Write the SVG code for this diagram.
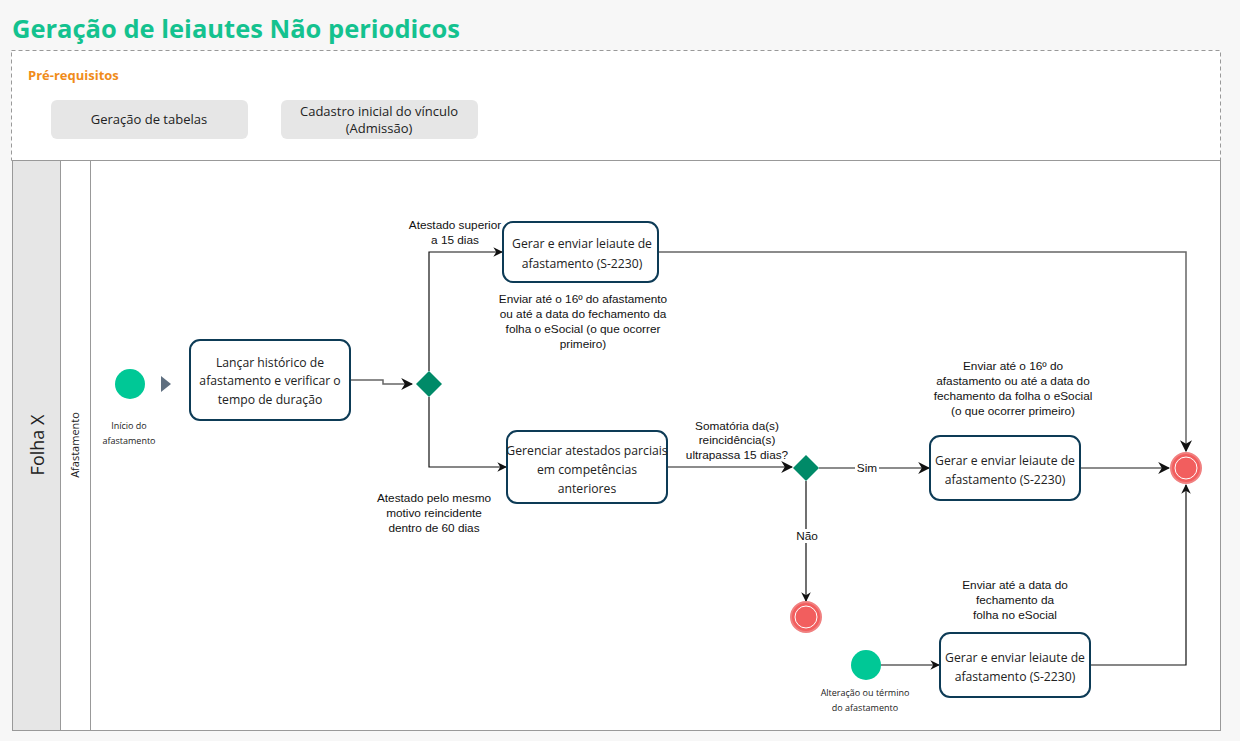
<svg xmlns="http://www.w3.org/2000/svg" width="1240" height="741" viewBox="0 0 1240 741">
<defs>
<style>
.t{font-family:"Open Sans","Noto Sans",sans-serif;font-size:12.2px;fill:#222;text-anchor:middle}
.a{font-family:"Liberation Sans",Arial,sans-serif;font-size:11.8px;fill:#111;text-anchor:middle}
.s{font-family:"Open Sans","Noto Sans",sans-serif;font-size:9px;fill:#222;text-anchor:middle}
.task{fill:#fff;stroke:#0d3b56;stroke-width:2}
.gray{fill:#e6e6e6}
.c{fill:none;stroke:#111;stroke-width:1.2}
.cg{fill:none;stroke:#666;stroke-width:1.5}
</style>
<marker id="ar" viewBox="0 0 10 10" refX="9" refY="5" markerWidth="8" markerHeight="8" orient="auto"><path d="M0,0 L10,5 L0,10 L3,5 Z" fill="#111"/></marker>
</defs>
<rect width="1240" height="741" fill="#f7f7f7"/>
<text x="12" y="38" font-family="Open Sans,Noto Sans,sans-serif" font-size="25.5" font-weight="bold" fill="#14c28f">Geração de leiautes Não periodicos</text>
<rect x="11.5" y="50.5" width="1209" height="110" fill="#fff" stroke="#999" stroke-dasharray="4 3"/>
<text x="28" y="80" font-family="Open Sans,Noto Sans,sans-serif" font-size="13" font-weight="bold" fill="#f08c1a">Pré-requisitos</text>
<g id="pre1"><rect class="gray" x="51" y="100" width="197" height="39" rx="6"/><text class="t" x="149" y="124" style="font-size:13px">Geração de tabelas</text></g>
<g id="pre2"><rect class="gray" x="281" y="100" width="197" height="39" rx="6"/><text class="t" x="379" y="116" style="font-size:13px">Cadastro inicial do vínculo</text><text class="t" x="379" y="133" style="font-size:13px">(Admissão)</text></g>
<g id="pool">
<rect x="12.5" y="160.5" width="1208" height="570" fill="#fff" stroke="#999"/>
<rect x="12.5" y="160.5" width="48" height="570" fill="#e6e6e6" stroke="#999"/>
<rect x="60.5" y="160.5" width="30" height="570" fill="#fff" stroke="#999"/>
<text transform="translate(44,445) rotate(-90)" font-family="Open Sans,Noto Sans,sans-serif" font-size="18" fill="#222" text-anchor="middle">Folha X</text>
<text transform="translate(79,445) rotate(-90)" class="s" style="font-size:11px">Afastamento</text>
</g>
<g id="connectors">
<path class="cg" d="M350,380 H383 V384 H412" marker-end="url(#ar)"/>
<path class="c" d="M429,371 V252 H502" marker-end="url(#ar)"/>
<path class="c" d="M429,397 V467 H506" marker-end="url(#ar)"/>
<path class="cg" d="M658,252 H1186 V451" marker-end="url(#ar)"/>
<path class="cg" d="M667,467 H792" marker-end="url(#ar)"/>
<path class="cg" d="M819,468 H929" marker-end="url(#ar)"/>
<path class="cg" d="M1080,468 H1169" marker-end="url(#ar)"/>
<path class="c" d="M806,481 V601" marker-end="url(#ar)"/>
<path class="c" d="M881,665 H939" marker-end="url(#ar)"/>
<path class="c" d="M1090,665 H1186 V485" marker-end="url(#ar)"/>
<rect x="855" y="461" width="24" height="14" fill="#fff"/><text class="a" x="867" y="472">Sim</text>
<rect x="794" y="529" width="26" height="14" fill="#fff"/><text class="a" x="807" y="540">Não</text>
<text class="a" x="455" y="229">Atestado superior</text><text class="a" x="455" y="244">a 15 dias</text>
<text class="a" x="434" y="502">Atestado pelo mesmo</text><text class="a" x="434" y="517">motivo reincidente</text><text class="a" x="434" y="532">dentro de 60 dias</text>
<text class="a" x="737" y="430">Somatória da(s)</text><text class="a" x="737" y="444">reincidência(s)</text><text class="a" x="737" y="459">ultrapassa 15 dias?</text>
</g>
<g id="start1"><circle cx="130" cy="384" r="15" fill="#00c896"/><path d="M161,376 L171,384 L161,392 Z" fill="#5f6f80"/><text class="s" x="129" y="429">Início do</text><text class="s" x="129" y="444">afastamento</text></g>
<g id="task1"><rect class="task" x="190" y="340" width="160" height="80" rx="10"/><text class="t" x="270" y="367">Lançar histórico de</text><text class="t" x="270" y="385">afastamento e verificar o</text><text class="t" x="270" y="404">tempo de duração</text></g>
<g id="gw1"><path d="M429,371 L442,384 L429,397 L416,384 Z" fill="#008a68"/></g>
<g id="task2"><rect class="task" x="503" y="222" width="155" height="60" rx="10"/><text class="t" x="582" y="248">Gerar e enviar leiaute de</text><text class="t" x="582" y="268">afastamento (S-2230)</text>
<text class="a" x="583" y="303">Enviar até o 16º do afastamento</text><text class="a" x="583" y="318">ou até a data do fechamento da</text><text class="a" x="583" y="333">folha o eSocial (o que ocorrer</text><text class="a" x="583" y="348">primeiro)</text></g>
<g id="task3"><rect class="task" x="507" y="431" width="160" height="72" rx="10"/><text class="t" x="587" y="455">Gerenciar atestados parciais</text><text class="t" x="587" y="474">em competências</text><text class="t" x="587" y="493">anteriores</text></g>
<g id="gw2"><path d="M806,455 L819,468 L806,481 L793,468 Z" fill="#008a68"/></g>
<g id="task4"><rect class="task" x="930" y="436" width="150" height="64" rx="10"/><text class="t" x="1005" y="465">Gerar e enviar leiaute de</text><text class="t" x="1005" y="484">afastamento (S-2230)</text>
<text class="a" x="1013" y="370">Enviar até o 16º do</text><text class="a" x="1013" y="385">afastamento ou até a data do</text><text class="a" x="1013" y="400">fechamento da folha o eSocial</text><text class="a" x="1013" y="415">(o que ocorrer primeiro)</text></g>
<g id="end1"><circle cx="1186" cy="468" r="15" fill="#f25e5e" stroke="#f08080" stroke-width="2"/><circle cx="1186" cy="468" r="11" fill="none" stroke="#fff" stroke-width="1"/></g>
<g id="end2"><circle cx="806" cy="617" r="15" fill="#f25e5e" stroke="#f08080" stroke-width="2"/><circle cx="806" cy="617" r="11" fill="none" stroke="#fff" stroke-width="1"/></g>
<g id="start2"><circle cx="866" cy="665" r="15" fill="#00c896"/><text class="s" x="865" y="696">Alteração ou término</text><text class="s" x="865" y="711">do afastamento</text></g>
<g id="task5"><rect class="task" x="940" y="633" width="150" height="64" rx="10"/><text class="t" x="1015" y="662">Gerar e enviar leiaute de</text><text class="t" x="1015" y="681">afastamento (S-2230)</text>
<text class="a" x="1015" y="589">Enviar até a data do</text><text class="a" x="1015" y="604">fechamento da</text><text class="a" x="1015" y="619">folha no eSocial</text></g>
</svg>
